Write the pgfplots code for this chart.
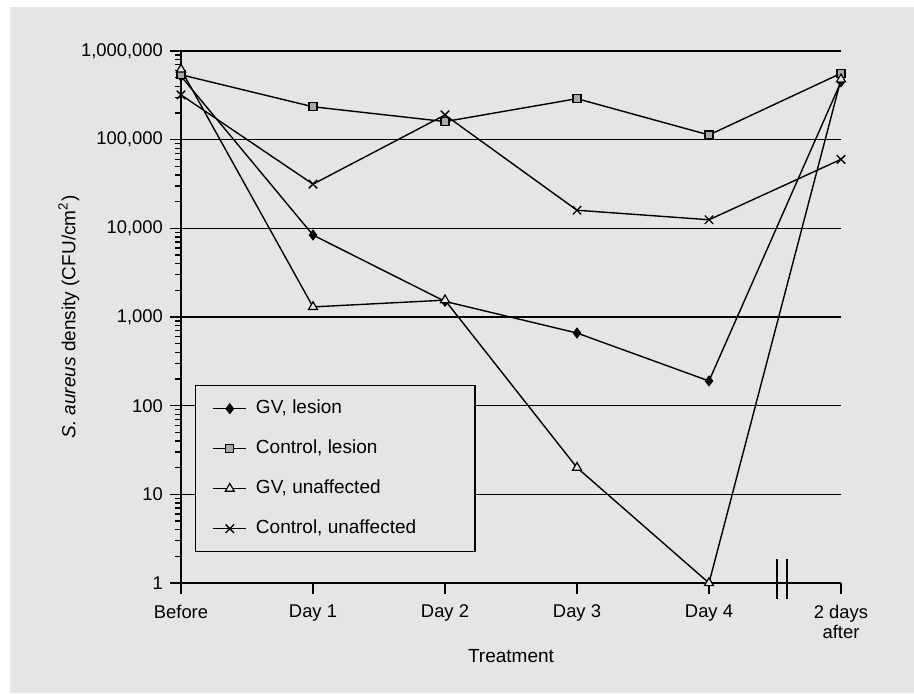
\documentclass[border=0pt]{standalone}
\usepackage{pgfplots}
\pgfplotsset{compat=1.18}
\usepackage{fontspec}
\setmainfont{Liberation Sans}
\definecolor{bg}{RGB}{229,229,229}
\definecolor{sqfill}{RGB}{170,170,170}

\begin{document}
\begin{tikzpicture}
  % page: 914x693 px at 0.5pt per px
  \fill[white] (0,0) rectangle (457pt,346.5pt);
  \fill[bg] (5pt,0) rectangle (457pt,343pt);
  \begin{axis}[
      at={(90.5pt,55pt)}, anchor=south west,
      scale only axis,
      width=330pt, height=266pt,
      ymode=log,
      xmin=0, xmax=5,
      ymin=1, ymax=1000000,
      axis lines*=left,
      axis line style={line width=0.7pt},
      xtick={0,1,2,3,4,5},
      xticklabels={Before,Day 1,Day 2,Day 3,Day 4,{2 days\\after}},
      ytick={1,10,100,1000,10000,100000,1000000},
      yticklabels={1,10,100,{1,000},{10,000},{100,000},{1,000,000}},
      minor ytick={},
      tick align=outside,
      major tick length=5.5pt,
      tick style={black, line width=0.7pt},
      ticklabel style={font=\fontsize{9.2}{10}\selectfont},
      xticklabel style={align=center, yshift=-2pt},
      /pgf/number format/assume math mode=true,
      ymajorgrids,
      grid style={black, line width=0.6pt},
      xlabel={Treatment},
      ylabel={\textit{S. aureus} density (CFU/cm\textsuperscript{2})},
      label style={font=\fontsize{9.5}{11}\selectfont},
      ylabel style={at={(axis description cs:-0.170,0.5)}, anchor=center},
      xlabel style={at={(axis description cs:0.5,-0.138)}, anchor=center},
      clip=false,
      every axis plot/.append style={black, line width=0.7pt},
      legend cell align=left,
      legend image code/.code={
        \draw[mark repeat=2,mark phase=2] plot coordinates {(0pt,0pt) (8.25pt,0pt) (16.5pt,0pt)};
      },
      legend style={
        at={(0.0212,0.372)}, anchor=north west,
        draw=black, line width=0.6pt, fill=bg,
        inner xsep=8.5pt, inner ysep=7pt,
        row sep=11pt, column sep=4.5pt,
        font=\fontsize{9.5}{11}\selectfont,
        nodes={inner sep=0pt, text height=7pt, text depth=2pt},
      },
    ]
    \addplot[mark=diamond*, mark size=2.3pt, mark options={fill=black}]
      coordinates {(0,520000) (1,8400) (2,1500) (3,660) (4,190) (5,450000)};
    \addlegendentry{\makebox[101pt][l]{GV, lesion}}

    \addplot[mark=square*, mark size=2pt, mark options={fill=sqfill, line width=0.6pt}]
      coordinates {(0,540000) (1,235000) (2,160000) (3,290000) (4,113000) (5,560000)};
    \addlegendentry{Control, lesion}

    \addplot[mark=triangle*, mark size=2.6pt, mark options={fill=bg, line width=0.6pt}]
      coordinates {(0,620000) (1,1300) (2,1550) (3,20) (4,1) (5,480000)};
    \addlegendentry{GV, unaffected}

    \addplot[mark=x, mark size=3pt]
      coordinates {(0,320000) (1,31500) (2,190000) (3,16000) (4,12500) (5,60000)};
    \addlegendentry{Control, unaffected}

    % heavier top rule and axis break marks
    \draw[line width=1pt] (rel axis cs:0,1) -- (rel axis cs:1,1);
    \draw[line width=0.7pt] (rel axis cs:0.903,0.045) -- (rel axis cs:0.903,-0.030);
    \draw[line width=0.7pt] (rel axis cs:0.918,0.045) -- (rel axis cs:0.918,-0.030);
  \end{axis}
\end{tikzpicture}
\end{document}
